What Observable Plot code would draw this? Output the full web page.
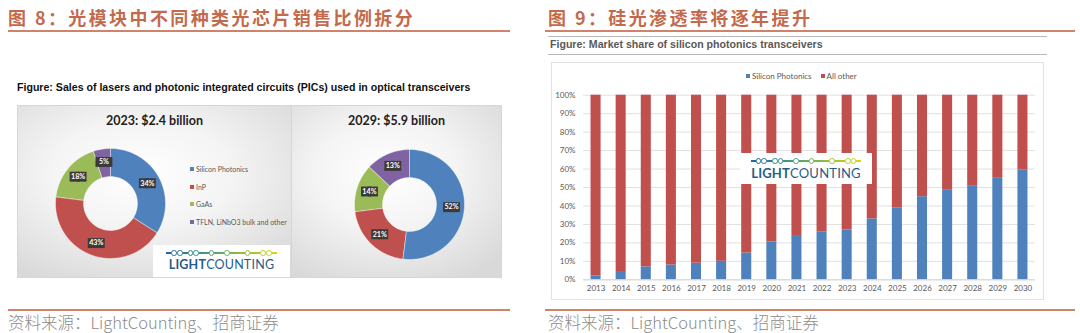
<!DOCTYPE html>
<html><head><meta charset="utf-8">
<script src="https://cdn.jsdelivr.net/npm/d3@7"></script>
<script src="https://cdn.jsdelivr.net/npm/@observablehq/plot@0.6"></script>
<style>
html,body{margin:0;padding:0;}
body{width:1080px;height:333px;background:#fff;position:relative;overflow:hidden;font-family:"Noto Sans CJK SC",sans-serif;}
.abs{position:absolute;}
.title{font-size:18px;line-height:18px;font-weight:700;color:#c46a4c;letter-spacing:2.4px;white-space:nowrap;}
.orule{height:2px;background:#d0836a;}
.grule{height:1px;background:#b8b8b8;}
.src{font-size:16.5px;line-height:18px;color:#8c8c8c;white-space:nowrap;font-weight:300;}
.cap{font-family:"Liberation Sans",Arial,sans-serif;font-weight:700;font-size:10.6px;line-height:11px;white-space:nowrap;}
.gbox{border:1px solid #d6d6d6;box-sizing:border-box;background:radial-gradient(ellipse 75% 70% at 45% 40%,#ffffff 0%,#f4f4f4 45%,#d9d9d9 100%);}
.dtitle{font-family:Lato,sans-serif;font-weight:700;font-size:12.5px;line-height:13px;color:#222;text-align:center;white-space:nowrap;}
.leg{font-family:Lato,sans-serif;font-size:7px;line-height:8px;color:#595959;white-space:nowrap;display:flex;align-items:center;}
.sw{display:inline-block;width:4px;height:4px;margin-right:2px;}
.logo{background:#fff;box-sizing:border-box;}
.lc{font-family:Lato,sans-serif;color:#1f5e8c;white-space:nowrap;text-align:center;letter-spacing:0.2px;}
.dots{display:flex;align-items:center;justify-content:center;height:6px;}
.dots span{display:inline-block;}
</style></head>
<body>
<script>
// ---------- data ----------
const leftTitle = "图 8：光模块中不同种类光芯片销售比例拆分";
const rightTitle = "图 9：硅光渗透率将逐年提升";
const sourceText = "资料来源：LightCounting、招商证券";
const leftCaption = "Figure: Sales of lasers and photonic integrated circuits (PICs) used in optical transceivers";
const rightCaption = "Figure: Market share of silicon photonics transceivers";

const segments = ["Silicon Photonics", "InP", "GaAs", "TFLN, LiNbO3 bulk and other"];
const segmentColors = ["#4f81bd", "#c0504d", "#9bbb59", "#8064a2"];
const share2023 = [34, 43, 18, 5];
const share2029 = [52, 21, 14, 13];
const donutTitles = ["2023: $2.4 billion", "2029: $5.9 billion"];

const years = ["2013","2014","2015","2016","2017","2018","2019","2020","2021","2022","2023","2024","2025","2026","2027","2028","2029","2030"];
const siliconPhotonics = [2, 4.5, 7, 8, 9, 10, 14.5, 20.5, 23.5, 26, 27, 33, 39, 45, 48.5, 51, 55, 59.5];
const allOther = [98, 95.5, 93, 92, 91, 90, 85.5, 79.5, 76.5, 74, 73, 67, 61, 55, 51.5, 49, 45, 40.5];
const barSeries = ["Silicon Photonics", "All other"];
const barColors = ["#4f81bd", "#c0504d"];
const yTicks = [0, 10, 20, 30, 40, 50, 60, 70, 80, 90, 100];

// ---------- helpers ----------
function el(tag, cls, style, html) {
  const e = document.createElement(tag);
  if (cls) e.className = cls;
  if (style) e.setAttribute("style", style);
  if (html != null) e.innerHTML = html;
  document.body.appendChild(e);
  return e;
}
function place(node, left, top) {
  node.style.position = "absolute";
  node.style.left = left + "px";
  node.style.top = top + "px";
  document.body.appendChild(node);
  return node;
}
function logo(left, top, w, h, fs) {
  const box = el("div", "abs logo", `left:${left}px;top:${top}px;width:${w}px;height:${h}px;padding-top:5px;`);
  const dots = document.createElement("div");
  dots.className = "dots";
  const pattern = "-oo-oo--o--o---o--oo-";
  const col = d3.interpolateRgbBasis(["#1d6aa0", "#3f9a8a", "#8cbf3f", "#d8d21a"]);
  [...pattern].forEach((c, i) => {
    const s = document.createElement("span");
    const color = col(i / (pattern.length - 1));
    if (c === "-") { s.style.cssText = `width:5px;height:1.2px;background:${color}`; }
    else { s.style.cssText = `width:3.6px;height:3.6px;border:1.2px solid ${color};border-radius:50%`; }
    dots.appendChild(s);
  });
  box.appendChild(dots);
  const t = document.createElement("div");
  t.className = "lc";
  t.style.fontSize = fs + "px";
  t.style.lineHeight = (fs + 2) + "px";
  t.style.marginTop = "2px";
  t.innerHTML = "<b>LIGHT</b>COUNTING";
  box.appendChild(t);
}

// ---------- headers ----------
el("div", "abs title", "left:8px;top:8px;", leftTitle);
el("div", "abs title", "left:548px;top:8px;", rightTitle);
el("div", "abs orule", "left:8px;top:30px;width:502px;");
el("div", "abs orule", "left:545px;top:30px;width:530px;");
el("div", "abs orule", "left:8px;top:308.5px;width:502px;");
el("div", "abs orule", "left:545px;top:309px;width:530px;");
el("div", "abs src", "left:8px;top:313px;", sourceText);
el("div", "abs src", "left:548px;top:313px;", sourceText);

// ---------- left panel ----------
el("div", "abs cap", "left:17px;top:81.5px;color:#111;", leftCaption);
el("div", "abs gbox", "left:17px;top:105px;width:275px;height:173px;");
el("div", "abs gbox", "left:291px;top:105px;width:211px;height:173px;");
el("div", "abs dtitle", "left:17px;top:114px;width:275px;", donutTitles[0]);
el("div", "abs dtitle", "left:291px;top:114px;width:211px;", donutTitles[1]);

function donut(shares) {
  const rows = segments.map((s, i) => ({segment: s, value: shares[i]}));
  const arcs = d3.pie().sort(null).value(d => d.value)(rows);
  const R = 1, r0 = 0.49;
  const pt = (a, r) => [r * Math.sin(a), -r * Math.cos(a)];
  const features = arcs.map(a => {
    const n = Math.max(4, Math.ceil((a.endAngle - a.startAngle) / (2 * Math.PI) * 120));
    const angs = d3.range(n + 1).map(k => a.startAngle + (a.endAngle - a.startAngle) * k / n);
    const ring = angs.map(t => pt(t, R)).concat(angs.slice().reverse().map(t => pt(t, r0)));
    ring.push(ring[0]);
    return {type: "Feature", properties: {segment: a.data.segment}, geometry: {type: "Polygon", coordinates: [ring]}};
  });
  const labels = arcs.map(a => {
    const m = (a.startAngle + a.endAngle) / 2;
    const [x, y] = pt(m, (R + r0) / 2 + 0.02);
    return {x, y, text: a.data.value + "%"};
  });
  const outline = {type: "Polygon", coordinates: [d3.range(65).map(k => pt(k / 64 * 2 * Math.PI, R))]};
  return Plot.plot({
    width: 120, height: 120, margin: 0,
    projection: {type: "identity", domain: outline, inset: 5},
    color: {domain: segments, range: segmentColors},
    style: {background: "none", overflow: "visible"},
    marks: [
      Plot.geo(features, {fill: d => d.properties.segment, stroke: "#ffffff", strokeWidth: 0.4}),
      Plot.dot(labels, {x: "x", y: "y", symbol: "square", r: 5.6, fill: "#3a3a3a", dx: -3.5}),
      Plot.dot(labels, {x: "x", y: "y", symbol: "square", r: 5.6, fill: "#3a3a3a", dx: 3.5}),
      Plot.text(labels, {x: "x", y: "y", text: "text", fill: "white", fontSize: 7.2, fontWeight: "bold", fontFamily: "Lato, sans-serif"})
    ]
  });
}
place(donut(share2023), 50, 143);
place(donut(share2029), 348.5, 143.5);

// left legend
segments.forEach((s, i) => {
  el("div", "abs leg", `left:190px;top:${165 + i * 17.5}px;`, `<span class="sw" style="background:${segmentColors[i]}"></span>${s}`);
});
logo(153, 245, 137, 32, 12.5);

// ---------- right panel ----------
el("div", "abs grule", "left:548px;top:36px;width:499px;");
el("div", "abs cap", "left:550px;top:39px;color:#595959;", rightCaption);
el("div", "abs grule", "left:548px;top:54px;width:499px;");
el("div", "abs", "left:551px;top:62px;width:493px;height:238px;border:1px solid #e2e2e2;box-sizing:border-box;background:#fff;");

const barRows = [];
barSeries.forEach((s, si) => years.forEach((y, i) => barRows.push({year: y, series: s, share: (si === 0 ? siliconPhotonics : allOther)[i]})));

const bars = Plot.plot({
  width: 493, height: 238,
  marginLeft: 32, marginRight: 9, marginTop: 32.7, marginBottom: 20.7,
  style: {background: "none", fontFamily: "Lato, sans-serif", fontSize: "8px", color: "#595959", overflow: "visible"},
  x: {domain: years, paddingInner: 0.6, paddingOuter: 0.3, round: false, label: null, tickSize: 0, tickPadding: 6},
  y: {domain: [0, 100], ticks: yTicks, tickFormat: d => d + "%", label: null, tickSize: 0, tickPadding: 8},
  color: {domain: barSeries, range: barColors},
  marks: [
    Plot.ruleY(yTicks, {stroke: "#e0e0e0"}),
    Plot.barY(barRows, {x: "year", y: "share", fill: "series"}),
    Plot.ruleY([0], {stroke: "#d6d6d6"})
  ]
});
place(bars, 551, 62);

// right legend
const rl = el("div", "abs leg", "left:746px;top:72px;font-size:8px;");
rl.innerHTML = barSeries.map((s, i) => `<span class="sw" style="background:${barColors[i]}"></span><span style="margin-right:9px">${s}</span>`).join("");

logo(740, 153, 132, 31, 13);
</script>
</body></html>
